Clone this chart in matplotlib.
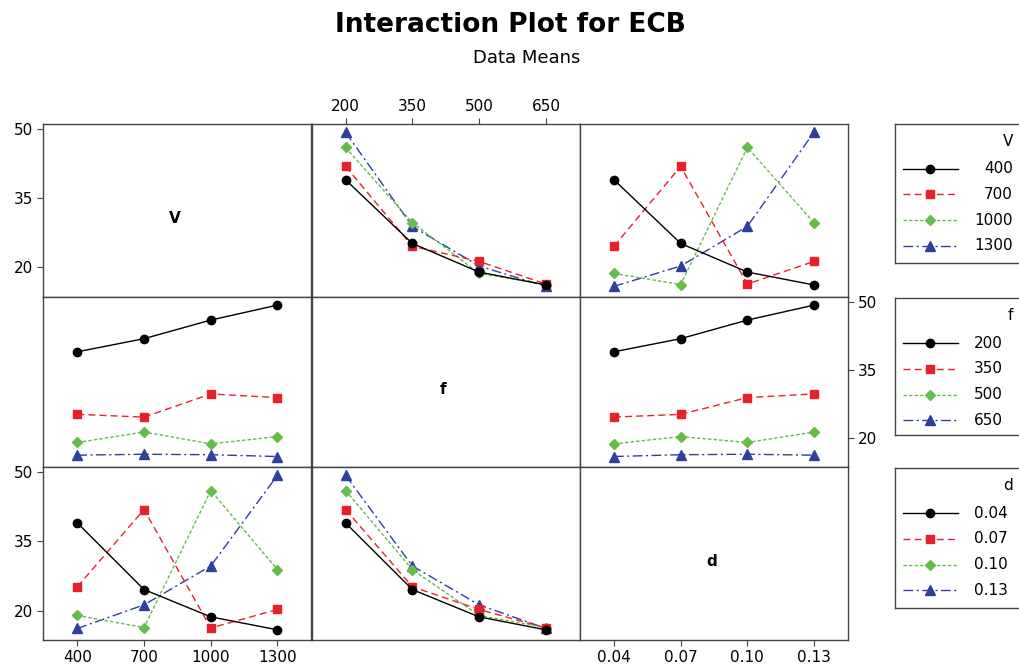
import matplotlib
matplotlib.use('Agg')
import matplotlib.pyplot as plt
import numpy as np
from matplotlib.lines import Line2D

# factor levels
factors = ['V', 'f', 'd']
V_levels = ['400', '700', '1000', '1300']
f_levels = ['200', '350', '500', '650']
d_levels = ['0.04', '0.07', '0.10', '0.13']
levels = [V_levels, f_levels, d_levels]

# ECB means, rows = first factor level, cols = second factor level
VF = [[39.0, 25.2, 19.0, 16.2],
      [41.9, 24.6, 21.3, 16.4],
      [46.0, 29.7, 18.7, 16.3],
      [49.3, 28.9, 20.3, 15.9]]
VD = [[39.0, 25.2, 19.0, 16.2],
      [24.6, 41.9, 16.4, 21.3],
      [18.7, 16.3, 46.0, 29.7],
      [15.9, 20.3, 28.9, 49.3]]
FD = [[39.0, 41.9, 46.0, 49.3],
      [24.6, 25.2, 28.9, 29.7],
      [18.7, 20.3, 19.0, 21.3],
      [15.9, 16.3, 16.4, 16.2]]

y_ticks = [20, 35, 50]

tables = {(0, 1): np.array(VF), (0, 2): np.array(VD), (1, 2): np.array(FD)}
for (a, b), t in list(tables.items()):
    tables[(b, a)] = t.T

styles = [
    dict(color='black', marker='o', ms=6, ls='-', dashes=()),
    dict(color='#e8202a', marker='s', ms=5.8, ls='--', dashes=(5, 3)),
    dict(color='#62bd4a', marker='D', ms=5.2, ls='--', dashes=(2.5, 1.5)),
    dict(color='#2e3f9e', marker='^', ms=7.2, ls='-.', dashes=(7, 2.5, 1.5, 2.5)),
]
frame_col = '#444444'

W, H = 1019, 671
fig = plt.figure(figsize=(W / 100, H / 100), dpi=100)
plt.rcParams['font.family'] = 'DejaVu Sans'

def rect(x0, x1, y0, y1):
    return [x0 / W, 1 - y1 / H, (x1 - x0) / W, (y1 - y0) / H]

xs = [43.3, 311.5, 580, 848]
ys = [123.5, 296.5, 466.5, 640]

fig.text(510 / W, 1 - 25 / H, 'Interaction Plot for ECB', ha='center', va='center',
         fontsize=19, fontweight='bold')
fig.text(527 / W, 1 - 58 / H, 'Data Means', ha='center', va='center', fontsize=13)

for r in range(3):
    for c in range(3):
        ax = fig.add_axes(rect(xs[c], xs[c + 1], ys[r], ys[r + 1]))
        ax.set_xlim(-0.51, 3.51)
        ax.set_ylim(13.7, 51.2)
        for s in ax.spines.values():
            s.set_color(frame_col)
            s.set_linewidth(1)
        ax.set_xticks([])
        ax.set_yticks([])
        ax.tick_params(direction='out', length=4, color=frame_col, labelsize=11, pad=3)
        if r == c:
            ax.text(0.49, 0.45, factors[r], transform=ax.transAxes, ha='center',
                    va='center', fontsize=11, fontweight='bold')
        else:
            t = tables[(r, c)]
            x = np.arange(4)
            for i in range(4):
                st = styles[i]
                ax.plot(x, t[i], color=st['color'], marker=st['marker'], ms=st['ms'],
                        lw=1, dashes=st['dashes'], mec=st['color'], mfc=st['color'],
                        zorder=3 + (3 - i))
        # axis labelling on the outer panels
        if c == 0 and r in (0, 2):
            ax.set_yticks(y_ticks)
            ax.set_yticklabels([str(v) for v in y_ticks])
        if c == 2 and r == 1:
            ax.yaxis.tick_right()
            ax.set_yticks(y_ticks)
            ax.set_yticklabels([str(v) for v in y_ticks])
        if r == 0 and c == 1:
            ax.xaxis.tick_top()
            ax.set_xticks(range(4))
            ax.set_xticklabels(levels[c])
        if r == 2 and c in (0, 2):
            ax.set_xticks(range(4))
            ax.set_xticklabels(levels[c])

# legends on the right, one per factor
leg_boxes = [(123.5, 263), (298, 435), (468, 608)]
label_right = [1013, 1003, 1008]
for k in range(3):
    top, bot = leg_boxes[k]
    lax = fig.add_axes(rect(895, 1030, top, bot))
    lax.set_xlim(895, 1030)
    lax.set_ylim(bot, top)
    lax.set_xticks([])
    lax.set_yticks([])
    for s in lax.spines.values():
        s.set_color(frame_col)
        s.set_linewidth(1)
    lax.text(1013, top + 18, factors[k], ha='right', va='center', fontsize=11)
    for i in range(4):
        st = styles[i]
        yy = top + 45 + 25.8 * i
        lax.add_line(Line2D([903, 958], [yy, yy], color=st['color'], lw=1,
                            dashes=st['dashes']))
        lax.plot([930], [yy], marker=st['marker'], ms=st['ms'], color=st['color'])
        lax.text(label_right[k], yy, levels[k][i], ha='right', va='center', fontsize=11)

fig.savefig('out.png', dpi=100)
